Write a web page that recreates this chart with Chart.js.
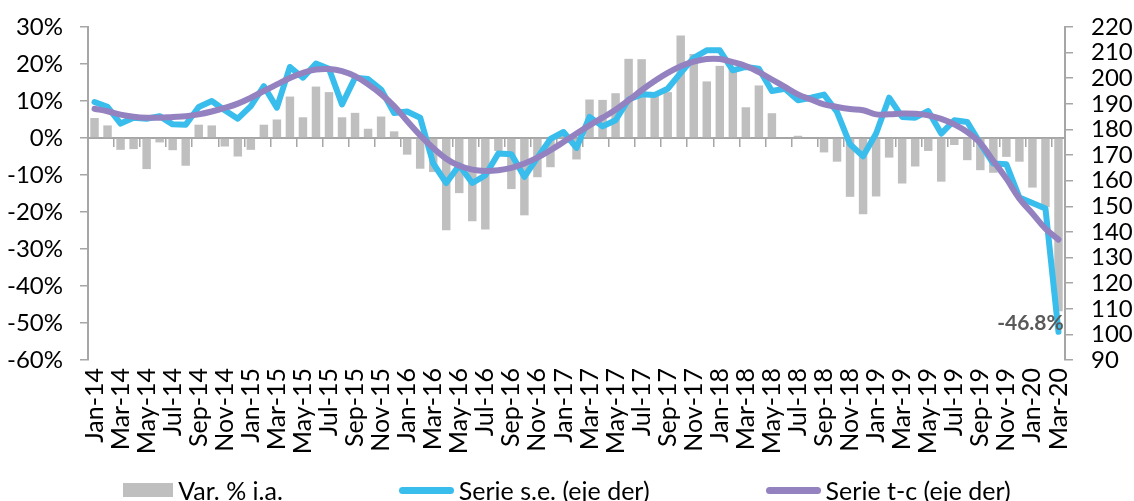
<!DOCTYPE html>
<html>
<head>
<meta charset="utf-8">
<script src="https://cdn.jsdelivr.net/npm/chart.js@4.4.1/dist/chart.umd.min.js"></script>
<style>
  body { margin: 0; background: #fff; }
  #wrap { position: relative; width: 1134px; height: 501px; }
  #legend {
    position: absolute; left: 0; top: 476px; width: 1134px;
    display: flex; justify-content: center; gap: 116px;
    font: 25px Lato, sans-serif; line-height: 28px; color: #000;
  }
  .item { display: flex; align-items: center; white-space: nowrap; }
  .sw { margin-right: 5px; }
</style>
</head>
<body>
<div id="wrap">
  <canvas id="chart" width="1134" height="501"></canvas>
  <div id="legend"></div>
</div>
<script>
const months = [
  'Jan-14', 'Feb-14', 'Mar-14', 'Apr-14', 'May-14', 'Jun-14', 'Jul-14', 'Aug-14', 'Sep-14', 'Oct-14', 'Nov-14', 'Dec-14',
  'Jan-15', 'Feb-15', 'Mar-15', 'Apr-15', 'May-15', 'Jun-15', 'Jul-15', 'Aug-15', 'Sep-15', 'Oct-15', 'Nov-15', 'Dec-15',
  'Jan-16', 'Feb-16', 'Mar-16', 'Apr-16', 'May-16', 'Jun-16', 'Jul-16', 'Aug-16', 'Sep-16', 'Oct-16', 'Nov-16', 'Dec-16',
  'Jan-17', 'Feb-17', 'Mar-17', 'Apr-17', 'May-17', 'Jun-17', 'Jul-17', 'Aug-17', 'Sep-17', 'Oct-17', 'Nov-17', 'Dec-17',
  'Jan-18', 'Feb-18', 'Mar-18', 'Apr-18', 'May-18', 'Jun-18', 'Jul-18', 'Aug-18', 'Sep-18', 'Oct-18', 'Nov-18', 'Dec-18',
  'Jan-19', 'Feb-19', 'Mar-19', 'Apr-19', 'May-19', 'Jun-19', 'Jul-19', 'Aug-19', 'Sep-19', 'Oct-19', 'Nov-19', 'Dec-19',
  'Jan-20', 'Feb-20', 'Mar-20'
];

// Var. % i.a. (left axis, %)
const varIa = [
  5.4, 3.4, -3.2, -3.0, -8.4, -1.2, -3.3, -7.5, 3.6, 3.4, -2.3, -5.0,
  -3.2, 3.6, 5.0, 11.2, 5.6, 13.9, 12.4, 5.6, 6.8, 2.5, 5.8, 1.8,
  -4.5, -8.3, -9.2, -24.9, -14.9, -22.5, -24.7, -3.5, -13.8, -20.9, -10.6, -7.9,
  1.0, -5.8, 10.4, 10.3, 12.1, 21.4, 21.3, 11.4, 12.4, 27.7, 22.7, 15.3,
  19.5, 18.7, 8.3, 14.2, 6.7, 0.0, 0.6, 0.0, -3.9, -6.4, -15.9, -20.6,
  -15.8, -5.3, -12.3, -7.7, -3.5, -11.8, -1.9, -6.0, -8.7, -9.4, -5.1, -6.4,
  -13.4, -18.7, -46.8
];

// Serie s.e. (right axis)
const serieSe = [
  190.7, 188.8, 182.3, 184.6, 184.2, 185.2, 182.0, 181.8, 188.8, 191.1, 187.5, 184.2,
  189.1, 196.9, 188.5, 204.4, 200.2, 205.7, 203.7, 189.8, 200.2, 199.7, 195.6, 186.4,
  187.0, 184.6, 166.7, 159.1, 166.0, 159.1, 162.1, 170.6, 170.3, 161.5, 169.0, 176.3,
  179.0, 172.8, 184.9, 181.2, 183.6, 191.7, 193.7, 193.5, 195.9, 202.1, 208.0, 210.9,
  210.9, 203.1, 204.4, 203.7, 195.0, 195.9, 191.4, 192.4, 193.6, 186.8, 174.2, 169.5,
  178.4, 192.4, 184.9, 184.6, 187.2, 178.4, 183.6, 182.9, 174.5, 166.7, 166.4, 153.4,
  151.3, 149.1, 101.0
];

// Serie t-c (right axis)
const serieTc = [
  188.1, 187.1, 185.8, 185.0, 184.6, 184.6, 184.9, 185.2, 185.9, 187.0, 188.4, 190.1,
  192.4, 195.0, 197.6, 200.1, 202.1, 203.4, 203.6, 202.8, 200.8, 197.6, 193.8, 189.1,
  183.3, 177.7, 172.8, 168.6, 165.8, 164.3, 163.8, 164.1, 165.0, 166.7, 169.0, 171.9,
  175.1, 178.4, 181.6, 184.6, 187.7, 191.4, 195.3, 198.9, 202.1, 204.7, 206.5, 207.5,
  207.5, 206.3, 204.8, 202.4, 199.5, 196.6, 193.7, 191.7, 189.8, 188.8, 188.0, 187.5,
  185.9, 185.9, 186.2, 186.1, 185.5, 184.1, 182.0, 179.0, 174.7, 167.7, 160.8, 153.0,
  147.2, 141.3, 137.0
];

const leftTicks = { min: -60, max: 30, step: 10 };
const rightTicks = { min: 90, max: 220, step: 10 };

const axisGray = '#A6A6A6';
const barGray = '#BFBFBF';
const blue = '#38BDEC';
const purple = '#9482C0';

Chart.defaults.font.family = 'Lato, sans-serif';
Chart.defaults.color = '#000';

// fixed axis box sizes, no extra label padding pushing the plot area
const fixWidth = w => s => {
  s.width = w;
  s.paddingTop = 0;
  s.paddingBottom = 0;
};

// data label on the last bar
const endLabel = {
  id: 'endLabel',
  afterDatasetsDraw(chart) {
    const meta = chart.getDatasetMeta(0);
    const last = meta.data[meta.data.length - 1];
    const v = varIa[varIa.length - 1];
    const ctx = chart.ctx;
    ctx.save();
    ctx.font = 'bold 21px Lato, sans-serif';
    ctx.fillStyle = '#595959';
    ctx.textAlign = 'right';
    ctx.textBaseline = 'middle';
    ctx.fillText(v.toFixed(1) + '%', last.x + last.width / 2 + 1, last.y + 12);
    ctx.restore();
  }
};

const chart = new Chart(document.getElementById('chart'), {
  type: 'bar',
  data: {
    labels: months,
    datasets: [
      {
        type: 'bar',
        label: 'Var. % i.a.',
        data: varIa,
        backgroundColor: barGray,
        borderWidth: 0,
        barPercentage: 0.65,
        categoryPercentage: 1,
        yAxisID: 'y',
        order: 3
      },
      {
        type: 'line',
        label: 'Serie s.e. (eje der)',
        data: serieSe,
        borderColor: blue,
        borderWidth: 6,
        pointRadius: 0,
        tension: 0,
        borderJoinStyle: 'round',
        borderCapStyle: 'round',
        yAxisID: 'y1',
        order: 2
      },
      {
        type: 'line',
        label: 'Serie t-c (eje der)',
        data: serieTc,
        borderColor: purple,
        borderWidth: 6,
        pointRadius: 0,
        tension: 0.4,
        borderJoinStyle: 'round',
        borderCapStyle: 'round',
        yAxisID: 'y1',
        order: 1
      }
    ]
  },
  options: {
    responsive: false,
    animation: false,
    devicePixelRatio: 1,
    layout: { padding: { top: 27, left: 0, right: 0, bottom: 0 } },
    plugins: {
      legend: { display: false },
      tooltip: { enabled: false }
    },
    scales: {
      x: {
        type: 'category',
        offset: true,
        grid: { display: false, drawTicks: false },
        border: { display: false },
        ticks: {
          autoSkip: false,
          minRotation: 90,
          maxRotation: 90,
          padding: 8,
          font: { size: 25 },
          callback: (v, i) => (i % 2 === 0 ? months[i] : '')
        },
        afterFit: s => { s.height = 141; }
      },
      xz: {
        type: 'category',
        position: { y: 0 },
        offset: true,
        grid: {
          offset: true,
          drawOnChartArea: false,
          drawTicks: true,
          tickLength: 8,
          lineWidth: 1.5,
          color: ctx => (ctx.index % 2 === 0 ? axisGray : 'rgba(0,0,0,0)')
        },
        border: { display: true, color: axisGray, width: 2 },
        ticks: { display: false }
      },
      y: {
        position: 'left',
        min: leftTicks.min,
        max: leftTicks.max,
        ticks: {
          stepSize: leftTicks.step,
          autoSkip: false,
          padding: 17,
          font: { size: 24 },
          callback: v => v + '%'
        },
        grid: { drawOnChartArea: false, tickLength: 8, color: axisGray, lineWidth: 1.5 },
        border: { color: axisGray, width: 2 },
        afterFit: fixWidth(88)
      },
      y1: {
        position: 'right',
        min: rightTicks.min,
        max: rightTicks.max,
        ticks: {
          stepSize: rightTicks.step,
          autoSkip: false,
          padding: 18,
          font: { size: 24 }
        },
        grid: { drawOnChartArea: false, tickLength: 8, color: axisGray, lineWidth: 1.5 },
        border: { color: axisGray, width: 2 },
        afterFit: fixWidth(69)
      }
    }
  },
  plugins: [endLabel]
});

// html legend built from the datasets
const legendEl = document.getElementById('legend');
chart.data.datasets.forEach(ds => {
  const item = document.createElement('div');
  item.className = 'item';
  const sw = document.createElement('span');
  sw.className = 'sw';
  if (ds.type === 'bar') {
    sw.style.cssText = `display:inline-block;width:50px;height:14px;background:${ds.backgroundColor}`;
  } else {
    sw.style.cssText = `display:inline-block;width:55px;height:7px;border-radius:4px;background:${ds.borderColor}`;
  }
  const txt = document.createElement('span');
  txt.textContent = ds.label;
  item.appendChild(sw);
  item.appendChild(txt);
  legendEl.appendChild(item);
});
</script>
</body>
</html>
